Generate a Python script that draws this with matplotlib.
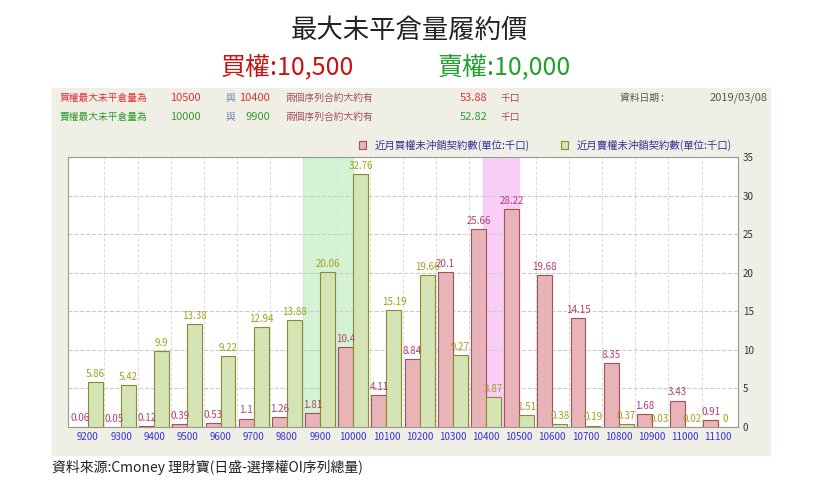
import matplotlib.pyplot as plt
import matplotlib.patches as mpatches
from matplotlib import font_manager
import numpy as np

# pick whatever CJK family is installed
cjk = [f.name for f in font_manager.fontManager.ttflist if 'CJK' in f.name]
pref = [n for n in cjk if 'TC' in n] or cjk
plt.rcParams['font.family'] = (pref[:1] if pref else []) + ['DejaVu Sans']

strikes = ['9200', '9300', '9400', '9500', '9600', '9700', '9800', '9900', '10000', '10100',
           '10200', '10300', '10400', '10500', '10600', '10700', '10800', '10900', '11000', '11100']
calls = [0.06, 0.05, 0.12, 0.39, 0.53, 1.1, 1.26, 1.81, 10.4, 4.11,
         8.84, 20.1, 25.66, 28.22, 19.68, 14.15, 8.35, 1.68, 3.43, 0.91]
puts = [5.86, 5.42, 9.9, 13.38, 9.22, 12.94, 13.88, 20.06, 32.76, 15.19,
        19.66, 9.27, 3.87, 1.51, 0.38, 0.19, 0.37, 0.03, 0.02, 0]
put_max_idx = 7     # 9900
call_max_idx = 12   # 10400

call_color = '#e8b4b8'
call_edge = '#a0505a'
put_color = '#d4e4b4'
put_edge = '#8a8a30'

fig = plt.figure(figsize=(8.19, 4.86), dpi=100)
fig.patches.append(mpatches.Rectangle((52 / 819, 1 - 455 / 486), 718 / 819, 367 / 486,
                                      transform=fig.transFigure, color='#f0efe6', zorder=-10))

fig.text(0.5, 1 - 30 / 486, '最大未平倉量履約價', ha='center', va='center', fontsize=19, color='#222222')
fig.text(0.27, 1 - 67 / 486, '買權:10,500', ha='left', va='center', fontsize=18, color='#cc1111')
fig.text(0.535, 1 - 67 / 486, '賣權:10,000', ha='left', va='center', fontsize=18, color='#22a030')

def info_row(y, label, a, b, total, col):
    fig.text(60 / 819, y, label, fontsize=7, color=col, va='center')
    fig.text(170 / 819, y, a, fontsize=8, color=col, va='center')
    fig.text(225 / 819, y, '與', fontsize=7, color='#6a8ab0', va='center')
    fig.text(270 / 819, y, b, fontsize=8, color=col, va='center', ha='right')
    fig.text(285 / 819, y, '兩個序列合約大約有', fontsize=7, color='#a05060', va='center')
    fig.text(460 / 819, y, total, fontsize=8, color=col, va='center')
    fig.text(500 / 819, y, '千口', fontsize=7, color='#a05060', va='center')

info_row(1 - 98 / 486, '買權最大未平倉量為', '10500', '10400', '53.88', '#dd3333')
info_row(1 - 117 / 486, '賣權最大未平倉量為', '10000', '9900', '52.82', '#339933')
fig.text(620 / 819, 1 - 98 / 486, '資料日期 :', fontsize=7, color='#555555', va='center')
fig.text(768 / 819, 1 - 98 / 486, '2019/03/08', fontsize=8, color='#555555', va='center', ha='right')

ax = fig.add_axes([68 / 819, 1 - 427 / 486, 670 / 819, 270 / 486])
ax.set_facecolor('white')
x = np.arange(len(strikes))
w = 0.45
ax.axvspan(put_max_idx - 0.5, put_max_idx + 1.0, color='#c8f0c8', alpha=0.8, zorder=0)
ax.axvspan(call_max_idx - 0.1, call_max_idx + 1.0, color='#f8c8f8', alpha=0.9, zorder=0)
ax.bar(x - w / 2, calls, w, color=call_color, edgecolor=call_edge, linewidth=0.8, zorder=3,
       label='近月買權未沖銷契約數(單位:千口)')
ax.bar(x + w / 2, puts, w, color=put_color, edgecolor=put_edge, linewidth=0.8, zorder=3,
       label='近月賣權未沖銷契約數(單位:千口)')
for i in x:
    ax.text(i - w / 2, calls[i] + 0.4, f'{calls[i]:g}', ha='center', va='bottom', fontsize=7,
            color='#b04070', zorder=4)
    ax.text(i + w / 2, puts[i] + 0.4, f'{puts[i]:g}', ha='center', va='bottom', fontsize=7,
            color='#a0a020', zorder=4)

ax.set_xlim(-0.6, len(strikes) - 0.4)
ax.set_ylim(0, 35)
ax.set_xticks(x)
ax.set_xticklabels(strikes, fontsize=7, color='#3333dd')
ax.yaxis.tick_right()
ax.set_yticks(range(0, 36, 5))
ax.tick_params(axis='y', labelsize=7, length=0, colors='#333333')
ax.tick_params(axis='x', length=0)
ax.grid(axis='y', color='#cccccc', linestyle='--', linewidth=0.8, zorder=1)
for i in x[:-1]:
    ax.axvline(i + 0.5, color='#dddddd', linestyle='--', linewidth=0.7, zorder=1)
for s in ax.spines.values():
    s.set_color('#999999')
ax.legend(loc='lower right', bbox_to_anchor=(1.0, 1.0), ncol=2, frameon=False, fontsize=7.5,
          handlelength=0.7, handleheight=0.7, labelcolor='#333399', columnspacing=3, borderaxespad=0.2)

fig.text(52 / 819, 1 - 467 / 486, '資料來源:Cmoney 理財寶(日盛-選擇權OI序列總量)', fontsize=10, va='center',
         color='#222222')

fig.savefig('out.png', dpi=100)
